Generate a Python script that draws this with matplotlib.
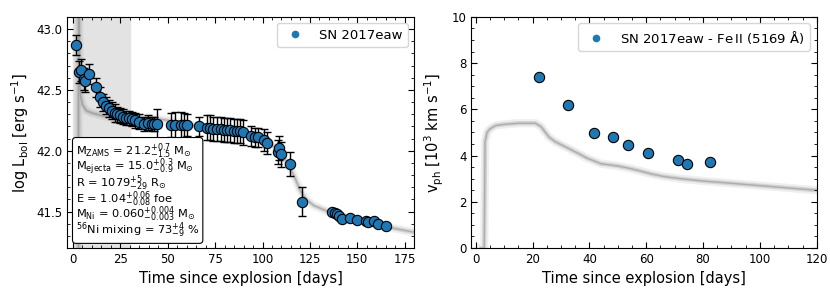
import matplotlib
matplotlib.use("Agg")
import matplotlib.pyplot as plt
from matplotlib.lines import Line2D

# bolometric light curve of SN 2017eaw
lc_days = [1.8, 3.3, 4.4, 5.6, 6.5, 8.5, 12.2, 14.4, 16.0, 17.5, 19.0, 20.5, 22.0,
           23.5, 25.0, 26.5, 28.0, 29.5, 31.0, 33.0, 35.0, 37.3, 39.5, 41.5, 43.0, 44.4,
           51.5, 54.0, 56.8, 58.5, 60.3, 66.4, 70.8, 72.5, 74.0, 76.0, 78.0, 79.5, 81.3,
           83.0, 84.8, 86.5, 88.0, 89.5, 93.9, 96.0, 97.4, 100.8, 102.6, 108.0, 108.6,
           109.7, 114.6, 120.6, 136.7, 138.0, 139.3, 140.5, 141.8, 146.4, 149.9, 154.7,
           155.9, 159.0, 160.8, 164.9]
lc_logl = [42.87, 42.65, 42.66, 42.59, 42.57, 42.63, 42.52, 42.44, 42.40, 42.37, 42.35,
           42.33, 42.31, 42.30, 42.29, 42.28, 42.27, 42.27, 42.26, 42.25, 42.24, 42.22,
           42.23, 42.22, 42.22, 42.22, 42.21, 42.21, 42.21, 42.21, 42.21, 42.20, 42.19,
           42.19, 42.18, 42.18, 42.18, 42.17, 42.17, 42.17, 42.16, 42.16, 42.16, 42.15,
           42.12, 42.11, 42.11, 42.09, 42.06, 41.99, 42.02, 41.97, 41.89, 41.58, 41.50,
           41.49, 41.48, 41.46, 41.44, 41.45, 41.43, 41.42, 41.41, 41.42, 41.40, 41.38]
lc_err = [0.08, 0.09, 0.09, 0.09, 0.09, 0.08, 0.08, 0.08, 0.07, 0.07, 0.07, 0.07, 0.07,
          0.06, 0.06, 0.06, 0.06, 0.06, 0.06, 0.06, 0.06, 0.06, 0.06, 0.06, 0.06, 0.12,
          0.10, 0.11, 0.11, 0.10, 0.09, 0.08, 0.10, 0.10, 0.10, 0.10, 0.10, 0.10, 0.10,
          0.10, 0.10, 0.10, 0.10, 0.10, 0.08, 0.08, 0.08, 0.09, 0.09, 0.10, 0.10, 0.10,
          0.10, 0.12, 0.0, 0.0, 0.0, 0.0, 0.0, 0.0, 0.0, 0.0, 0.0, 0.0, 0.0, 0.0]

# model light curve (grey band)
mod_days = [2.9, 3.0, 3.5, 4.0, 5.0, 7.0, 10.0, 15.0, 20.0, 25.0, 30.0, 40.0, 50.0, 60.0,
            70.0, 80.0, 90.0, 100.0, 105.0, 110.0, 114.0, 117.0, 120.0, 123.0, 127.0,
            133.0, 140.0, 150.0, 160.0, 170.0, 180.0]
mod_logl = [40.0, 44.0, 42.60, 42.45, 42.38, 42.33, 42.31, 42.29, 42.27, 42.26, 42.27,
            42.27, 42.25, 42.22, 42.19, 42.17, 42.14, 42.09, 42.05, 41.97, 41.88, 41.78,
            41.67, 41.60, 41.55, 41.51, 41.47, 41.43, 41.39, 41.36, 41.33]

# Fe II 5169 photospheric velocities
vel_days = [22.4, 32.6, 41.5, 48.4, 53.5, 60.6, 71.3, 74.3, 82.3]
vel_kms = [7.39, 6.17, 4.96, 4.80, 4.45, 4.10, 3.81, 3.65, 3.72]

# model photospheric velocity
vmod_days = [2.0, 3.0, 3.3, 4.0, 5.0, 7.0, 10.0, 15.0, 21.0, 23.0, 25.8, 28.0, 32.0,
             36.0, 39.0, 44.0, 50.0, 54.0, 58.0, 62.0, 66.0, 72.0, 80.0, 90.0, 100.0,
             110.0, 120.0]
vmod_v = [0.0, 0.0, 4.6, 5.0, 5.15, 5.3, 5.35, 5.4, 5.4, 5.25, 4.8, 4.6, 4.35, 4.1,
          3.9, 3.65, 3.55, 3.45, 3.33, 3.2, 3.1, 3.0, 2.9, 2.8, 2.7, 2.6, 2.5]

params_text = ("M$_{\\mathrm{ZAMS}}$ = 21.2$^{+0.7}_{-1.5}$ M$_{\\odot}$\n"
               "M$_{\\mathrm{ejecta}}$ = 15.0$^{+0.3}_{-0.9}$ M$_{\\odot}$\n"
               "R = 1079$^{+5}_{-29}$ R$_{\\odot}$\n"
               "E = 1.04$^{+0.06}_{-0.08}$ foe\n"
               "M$_{\\mathrm{Ni}}$ = 0.060$^{+0.004}_{-0.003}$ M$_{\\odot}$\n"
               "$^{56}$Ni mixing = 73$^{+4}_{-9}$ %")

blue = "#1f77b4"


def style_axes(ax):
    ax.minorticks_on()
    ax.tick_params(which="both", direction="in", top=True, right=True, labelsize=8.5)
    ax.tick_params(which="major", length=4.5)
    ax.tick_params(which="minor", length=2.5)


def plot_model(ax, x, y):
    ax.plot(x, y, color="grey", lw=6, alpha=0.12, zorder=1)
    ax.plot(x, y, color="grey", lw=3, alpha=0.25, zorder=1)
    ax.plot(x, y, color="grey", lw=1, alpha=0.45, zorder=1)


fig = plt.figure(figsize=(8.3, 2.96), dpi=100)
ax1 = fig.add_axes([0.081, 0.162, 0.418, 0.781])
ax2 = fig.add_axes([0.568, 0.162, 0.416, 0.781])

# left panel: light curve
ax1.axvspan(0, 30, color="#e3e3e3", zorder=0)
plot_model(ax1, mod_days, mod_logl)
ax1.errorbar(lc_days, lc_logl, yerr=lc_err, fmt="none", ecolor="black",
             elinewidth=1, capsize=3, zorder=2)
ax1.scatter(lc_days, lc_logl, s=55, color=blue, edgecolor="black", linewidth=0.8, zorder=3)
ax1.set_xlim(-3, 180)
ax1.set_ylim(41.2, 43.1)
ax1.set_yticks([41.5, 42.0, 42.5, 43.0])
ax1.set_xlabel("Time since explosion [days]", fontsize=10.5)
ax1.set_ylabel("log L$_{\\mathrm{bol}}$ [erg s$^{-1}$]", fontsize=10.5)
style_axes(ax1)
h1 = Line2D([], [], ls="none", marker="o", ms=4.5, color=blue)
ax1.legend([h1], ["SN 2017eaw"], loc="upper right", fontsize=9.5)
ax1.text(0.025, 0.035, params_text, transform=ax1.transAxes, fontsize=8.2,
         va="bottom", ha="left", linespacing=0.7, zorder=4,
         bbox=dict(boxstyle="round,pad=0.3", facecolor="white", edgecolor="black", lw=0.8))

# right panel: photospheric velocity
plot_model(ax2, vmod_days, vmod_v)
ax2.scatter(vel_days, vel_kms, s=55, color=blue, edgecolor="black", linewidth=0.8, zorder=3)
ax2.set_xlim(-1.5, 120)
ax2.set_ylim(0, 10)
ax2.set_xlabel("Time since explosion [days]", fontsize=10.5)
ax2.set_ylabel("v$_{\\mathrm{ph}}$ [10$^3$ km s$^{-1}$]", fontsize=10.5)
style_axes(ax2)
h2 = Line2D([], [], ls="none", marker="o", ms=4.5, color=blue)
ax2.legend([h2], ["SN 2017eaw - Fe$\\,$II (5169 Å)"], loc="upper right", fontsize=9.5)

fig.savefig("out.png", dpi=100)
